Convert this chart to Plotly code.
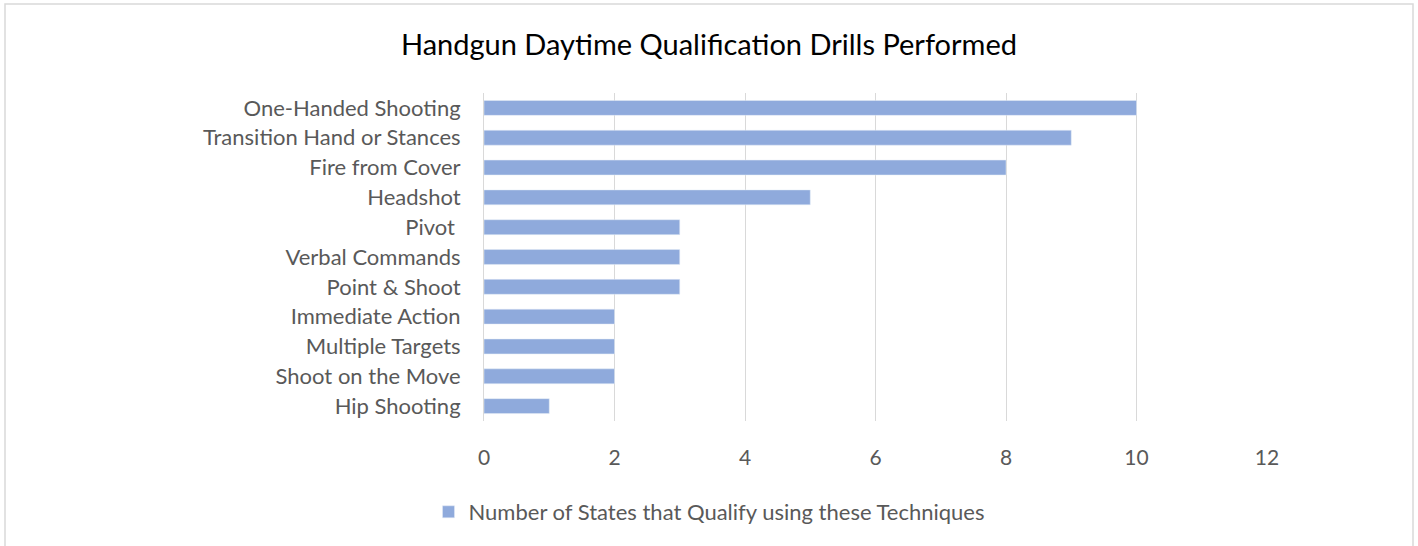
import plotly.graph_objects as go

drills = ['One-Handed Shooting', 'Transition Hand or Stances', 'Fire from Cover', 'Headshot',
          'Pivot ', 'Verbal Commands', 'Point & Shoot', 'Immediate Action',
          'Multiple Targets', 'Shoot on the Move', 'Hip Shooting']
states = [10, 9, 8, 5, 3, 3, 3, 2, 2, 2, 1]
series_name = 'Number of States that Qualify using these Techniques'
x_ticks = [0, 2, 4, 6, 8, 10, 12]

FONT = 'Lato'
GREY = '#595959'

# plot area in page pixels
L, T, PW, PH = 484, 93, 783, 328
W, H = 1418, 546

fig = go.Figure(go.Bar(
    y=drills, x=states, orientation='h', name=series_name,
    marker_color='#8FAADC', width=0.5, showlegend=True,
))

fig.update_layout(
    width=W, height=H,
    margin=dict(l=L, r=W - L - PW, t=T, b=H - T - PH),
    paper_bgcolor='white', plot_bgcolor='white',
    font=dict(family=FONT, color=GREY),
    title=dict(text='Handgun Daytime Qualification Drills Performed',
               x=709 / W, xref='container', xanchor='center',
               y=1 - 45 / H, yanchor='middle',
               font=dict(family=FONT, size=29, color='#000000')),
    legend=dict(orientation='h', x=(709 - L) / PW, xanchor='center',
                y=-(512 - (T + PH)) / PH, yanchor='middle',
                font=dict(size=22, color=GREY), bgcolor='rgba(0,0,0,0)'),
)

fig.update_xaxes(range=[0, 12], tickvals=x_ticks, showgrid=True, gridcolor='#D9D9D9',
                 gridwidth=1, zeroline=False, showline=False,
                 tickfont=dict(size=21, color=GREY), ticklabelstandoff=22)
fig.update_yaxes(autorange='reversed', showgrid=False, zeroline=False, showline=True,
                 linecolor='#D9D9D9', linewidth=1, tickfont=dict(size=22, color=GREY),
                 ticklabelstandoff=18)

# outer chart border
fig.add_shape(type='rect', xref='paper', yref='paper',
              x0=(5 - L) / PW, x1=(1413 - L) / PW,
              y0=-(560 - (T + PH)) / PH, y1=1 + (T - 4) / PH,
              line=dict(color='#D9D9D9', width=1.5), fillcolor='rgba(0,0,0,0)', layer='below')

fig.write_html('out.html', config={'displayModeBar': False},
               post_script="document.body.style.margin='0';")
